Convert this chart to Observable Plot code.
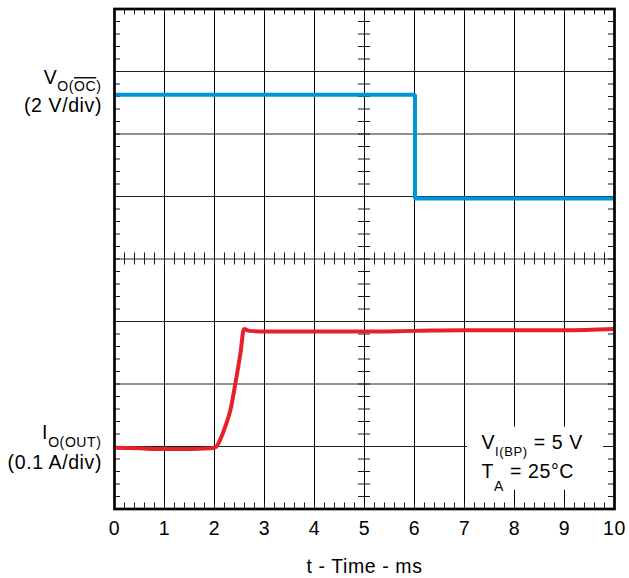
<!DOCTYPE html>
<html>
<head>
<meta charset="utf-8">
<script src="https://cdn.jsdelivr.net/npm/d3@7"></script>
<script src="https://cdn.jsdelivr.net/npm/@observablehq/plot@0.6"></script>
<style>
  html, body { margin: 0; padding: 0; background: #fff; }
  #chart svg text { white-space: pre; letter-spacing: 0.6px; }
</style>
</head>
<body>
<div id="chart"></div>
<script>
// ---- data (time in ms, signal in screen divisions, 0 = bottom of screen) ----
const timeTicks = [0, 1, 2, 3, 4, 5, 6, 7, 8, 9, 10];
const blueTime = [0, 6.01, 10];            // V_O(OC) trace, step after
const blueDiv  = [6.63, 4.97, 4.97];
const redTime = [0, 0.5, 1, 1.5, 1.9, 2.02, 2.12, 2.22, 2.32, 2.42, 2.52, 2.59, 2.7, 3, 4, 5, 6, 7, 8, 9, 10];
const redDiv  = [0.98, 0.97, 0.96, 0.96, 0.97, 0.99, 1.12, 1.33, 1.59, 2.02, 2.50, 2.88, 2.85, 2.84, 2.84, 2.84, 2.85, 2.86, 2.86, 2.86, 2.88];
const xLabel = "t - Time - ms";
const voLabel = ["VO(OC)", "(2 V/div)"];
const ioLabel = ["IO(OUT)", "(0.1 A/div)"];
const noteLines = ["VI(BP) = 5 V", "TA = 25°C"];

// ---- layout ----
const W = 629, H = 578;
const mL = 114, mR = 15, mT = 8.5, mB = 69.5;
const xDom = [0, 10], yDom = [0, 8];
const kx = (xDom[1] - xDom[0]) / (W - mL - mR);  // data units per pixel
const ky = (yDom[1] - yDom[0]) / (H - mT - mB);
const tick = 6;
const fs = 19.5;
const minorX = d3.range(0, 51).map(i => i / 5);
const minorY = d3.range(0, 41).map(i => i / 5);

const blue = blueTime.map((t, i) => ({t, v: blueDiv[i]}));
const red = redTime.map((t, i) => ({t, v: redDiv[i]}));
const font = "'Liberation Sans', Arial, Helvetica, sans-serif";
const tickColor = "#1a1a1a";

const svg = Plot.plot({
  width: W, height: H,
  marginLeft: mL, marginRight: mR, marginTop: mT, marginBottom: mB,
  style: {fontFamily: font, fontSize: fs + "px", color: "#000", background: "#fff", overflow: "visible"},
  x: {domain: xDom, axis: null},
  y: {domain: yDom, axis: null},
  marks: [
    // grid
    Plot.ruleX(d3.range(1, 10), {stroke: "#000", strokeWidth: 1}),
    Plot.ruleY(d3.range(1, 8), {stroke: "#222", strokeWidth: 1}),
    // minor ticks on the edges
    Plot.ruleX(minorX, {y1: yDom[1], y2: yDom[1] - tick * ky, stroke: tickColor}),
    Plot.ruleX(minorX, {y1: yDom[0], y2: yDom[0] + tick * ky, stroke: tickColor}),
    Plot.ruleY(minorY, {x1: xDom[0], x2: xDom[0] + tick * kx, stroke: tickColor}),
    Plot.ruleY(minorY, {x1: xDom[1] - tick * kx, x2: xDom[1], stroke: tickColor}),
    // minor ticks on the centre cross
    Plot.ruleX(minorX, {y1: 4 - tick * ky, y2: 4 + tick * ky, stroke: tickColor}),
    Plot.ruleY(minorY, {x1: 5 - tick * kx, x2: 5 + tick * kx, stroke: tickColor}),
    // traces
    Plot.line(blue, {x: "t", y: "v", curve: "step-after", stroke: "#0096d6", strokeWidth: 4, strokeLinejoin: "miter", strokeLinecap: "butt"}),
    Plot.line(red, {x: "t", y: "v", curve: "monotone-x", stroke: "#e8202a", strokeWidth: 4, strokeLinejoin: "round", strokeLinecap: "butt"}),
    // annotation background
    Plot.rect([0], {x1: 7.06, x2: 9.78, y1: 0.30, y2: 1.31, fill: "#fff"}),
    // frame
    Plot.frame({stroke: "#000", strokeWidth: 2.7}),
    // x axis
    Plot.axisX(timeTicks, {tickSize: 0, tickPadding: 12, fontSize: fs, fill: "#000", label: null}),
    Plot.text([xLabel], {frameAnchor: "bottom", lineAnchor: "top", dy: 49.7, fontSize: fs, fill: "#000"}),
    // left labels
    Plot.text([voLabel[0]], {x: 0, y: 6.907, dx: -13, textAnchor: "end", fontSize: fs, fill: "#000"}),
    Plot.text([voLabel[1]], {x: 0, y: 6.459, dx: -12.5, textAnchor: "end", fontSize: fs, fill: "#000"}),
    Plot.text([ioLabel[0]], {x: 0, y: 1.227, dx: -13, textAnchor: "end", fontSize: fs, fill: "#000"}),
    Plot.text([ioLabel[1]], {x: 0, y: 0.747, dx: -12.5, textAnchor: "end", fontSize: fs, fill: "#000"}),
    // condition note (both lines in one text element; second line added below)
    Plot.text([noteLines[0]], {x: 7.34, y: 1.067, textAnchor: "start", fontSize: fs, fill: "#000"})
  ]
});

document.getElementById("chart").append(svg);

const richText = {
  [voLabel[0]]: () => 'V<tspan dy="7.5" font-size="14">O(<tspan style="text-decoration:overline">OC</tspan>)</tspan>',
  [ioLabel[0]]: () => 'I<tspan dy="8.5" font-size="14">O(OUT)</tspan>',
  [noteLines[0]]: (x0) =>
    'V<tspan dy="7.5" font-size="13">I(BP)</tspan><tspan dy="-7.5"> = 5 V</tspan>' +
    `<tspan x="${x0}" dy="29.5">T</tspan><tspan dy="13" font-size="14">A</tspan><tspan dy="-13"> = 25°C</tspan>`
};
svg.querySelectorAll("text").forEach(t => {
  const f = richText[t.textContent];
  if (f) t.innerHTML = f(t.getAttribute("x") || 0);
});
</script>
</body>
</html>
